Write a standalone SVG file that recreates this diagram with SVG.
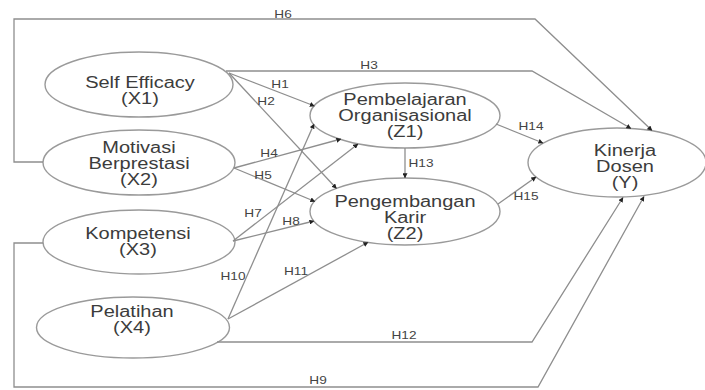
<svg xmlns="http://www.w3.org/2000/svg" width="705" height="390" viewBox="0 0 705 390">
<defs>
<marker id="arr" viewBox="0 0 7 7" refX="6.5" refY="3.5" markerWidth="5" markerHeight="5" markerUnits="userSpaceOnUse" orient="auto">
<path d="M0,0 L7,3.5 L0,7 z" fill="#222"/>
</marker>
<style>
.node ellipse{fill:#fff;stroke:#9a9a9a;stroke-width:1.4}
.node text{font-family:"Liberation Sans",Arial,sans-serif;font-size:16px;fill:#3c3c3c;text-anchor:middle}
#connectors path{fill:none;stroke:#8e8e8e;stroke-width:1.3;marker-end:url(#arr)}
#labels text{font-family:"Liberation Sans",Arial,sans-serif;font-size:10.5px;fill:#444;text-anchor:middle}
</style>
</defs>
<rect width="705" height="390" fill="#fff"/>

<g id="node-x1" class="node">
<ellipse cx="139" cy="84.5" rx="94" ry="32.5"/>
<g transform="translate(140,0) scale(1.25,1)"><text x="0" y="88">Self Efficacy</text><text x="0" y="104">(X1)</text></g>
</g>
<g id="node-x2" class="node">
<ellipse cx="139" cy="162.5" rx="96" ry="32.5"/>
<g transform="translate(139,0) scale(1.25,1)"><text x="0" y="153">Motivasi</text><text x="0" y="169">Berprestasi</text><text x="0" y="185">(X2)</text></g>
</g>
<g id="node-x3" class="node">
<ellipse cx="139" cy="242" rx="96" ry="32"/>
<g transform="translate(138,0) scale(1.25,1)"><text x="0" y="239">Kompetensi</text><text x="0" y="255">(X3)</text></g>
</g>
<g id="node-x4" class="node">
<ellipse cx="133" cy="327.5" rx="96.5" ry="30.5"/>
<g transform="translate(132,0) scale(1.25,1)"><text x="0" y="317">Pelatihan</text><text x="0" y="333">(X4)</text></g>
</g>
<g id="node-z1" class="node">
<ellipse cx="405" cy="115.5" rx="95" ry="32.5"/>
<g transform="translate(405,0) scale(1.25,1)"><text x="0" y="105">Pembelajaran</text><text x="0" y="121">Organisasional</text><text x="0" y="137">(Z1)</text></g>
</g>
<g id="node-z2" class="node">
<ellipse cx="405" cy="211.5" rx="95" ry="33.5"/>
<g transform="translate(405,0) scale(1.25,1)"><text x="0" y="207">Pengembangan</text><text x="0" y="223">Karir</text><text x="0" y="239">(Z2)</text></g>
</g>
<g id="node-y" class="node">
<ellipse cx="617" cy="162.5" rx="89" ry="34.5"/>
<g transform="translate(625,0) scale(1.25,1)"><text x="0" y="156">Kinerja</text><text x="0" y="172">Dosen</text><text x="0" y="188">(Y)</text></g>
</g>

<g id="connectors">
<path d="M43,162 L14,162 L14,19 L535,19 L652,130.5"/>
<path d="M226,71 L532,71 L631,128.5"/>
<path d="M229,73 L314.5,106"/>
<path d="M229,73 L336.5,188.5"/>
<path d="M234,168 L341,139"/>
<path d="M234,168 L315,201.5"/>
<path d="M233,241 L358,144"/>
<path d="M233,241 L314,221"/>
<path d="M228,319 L314,124"/>
<path d="M228,319 L368,242.3"/>
<path d="M217,342 L532,342 L623,197.5"/>
<path d="M43,243 L14,243 L14,387 L538,387 L644,196.5"/>
<path d="M405,148 L405,178"/>
<path d="M496,124 L543,143"/>
<path d="M498,204 L536,177"/>
</g>

<g id="labels">
<text transform="translate(283,18) scale(1.3,1)">H6</text>
<text transform="translate(280,88) scale(1.3,1)">H1</text>
<text transform="translate(266,105) scale(1.3,1)">H2</text>
<text transform="translate(369,69) scale(1.3,1)">H3</text>
<text transform="translate(269,157) scale(1.3,1)">H4</text>
<text transform="translate(263,179) scale(1.3,1)">H5</text>
<text transform="translate(253,217) scale(1.3,1)">H7</text>
<text transform="translate(291,225) scale(1.3,1)">H8</text>
<text transform="translate(233,280) scale(1.3,1)">H10</text>
<text transform="translate(296,275) scale(1.3,1)">H11</text>
<text transform="translate(318,384) scale(1.3,1)">H9</text>
<text transform="translate(404,339) scale(1.3,1)">H12</text>
<text transform="translate(421,167) scale(1.3,1)">H13</text>
<text transform="translate(531,130) scale(1.3,1)">H14</text>
<text transform="translate(526,200) scale(1.3,1)">H15</text>
</g>
</svg>
